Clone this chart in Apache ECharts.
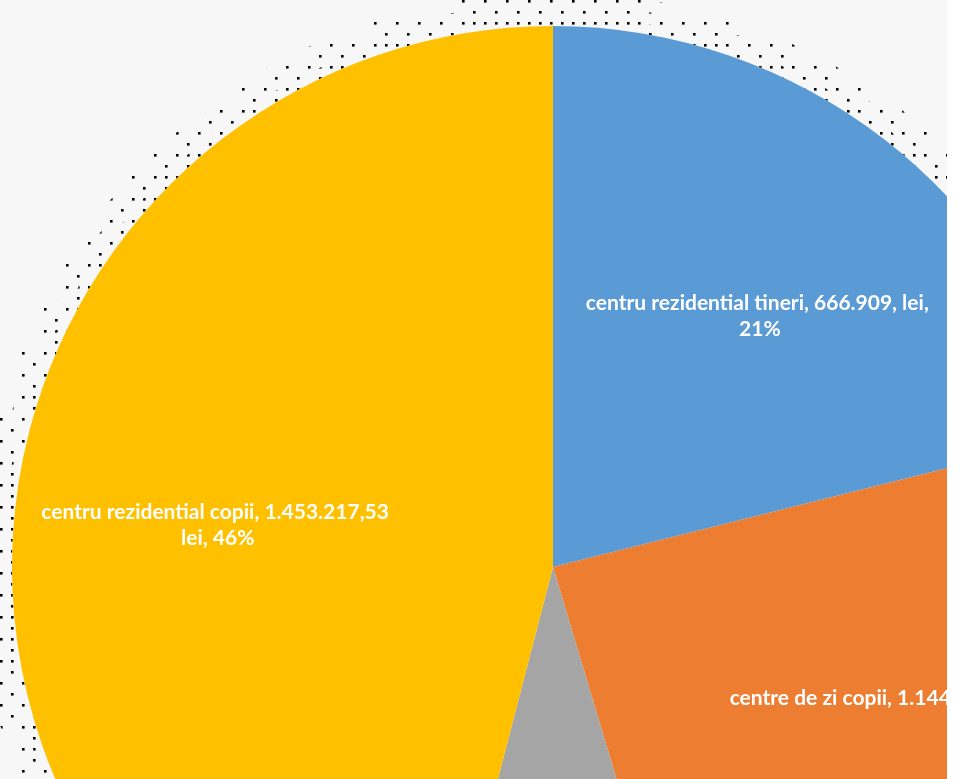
<!DOCTYPE html>
<html>
<head>
<meta charset="utf-8">
<script src="https://cdn.jsdelivr.net/npm/echarts@6/dist/echarts.min.js"></script>
<style>
  html, body { margin: 0; padding: 0; background: #ffffff; }
  #chart { width: 947px; height: 779px; background: #f7f7f7; }
</style>
</head>
<body>
<div id="chart"></div>
<script>
// ---- data ----
var categories = ['centru rezidential tineri', 'centre de zi copii', 'alte servicii', 'centru rezidential copii'];
var values = [666909, 767654, 274296, 1453217.53];
var valueTexts = ['666.909,', '1.144', '', '1.453.217,53'];
var colors = ['#5B9BD5', '#ED7D31', '#A5A5A5', '#FFC000'];

// ---- dotted shadow patterns ----
function dotPattern(points) {
  var c = document.createElement('canvas');
  c.width = 22; c.height = 22;
  var ctx = c.getContext('2d');
  ctx.fillStyle = '#000000';
  points.forEach(function (p) { ctx.fillRect(p[0], p[1], 2.6, 2.6); });
  return c;
}
var patA = dotPattern([[0, 0]]);
var patB = dotPattern([[11, 11]]);
var patC = dotPattern([[11, 0]]);

var R = 541;
var center = [553, 567];

function plainData() {
  return categories.map(function (n, i) { return { name: n, value: values[i] }; });
}

function ring(r0, r1, pat) {
  return {
    type: 'pie', silent: true, center: center, radius: [r0, r1],
    startAngle: 90, clockwise: true,
    label: { show: false }, labelLine: { show: false },
    itemStyle: { color: { image: pat, repeat: 'repeat' }, borderWidth: 0 },
    data: plainData()
  };
}

var labelOffsets = [[2, 12], [37, -33], [0, 0], [-5, 0]];

var chart = echarts.init(document.getElementById('chart'), null, { renderer: 'canvas' });
chart.setOption({
  animation: false,
  backgroundColor: '#f7f7f7',
  series: [
    ring(R, R + 34, patA),
    ring(R, R + 22, patB),
    ring(R, R + 10, patC),
    {
      type: 'pie', silent: true, center: center, radius: [0, R],
      startAngle: 90, clockwise: true,
      label: { show: false }, labelLine: { show: false },
      itemStyle: { borderWidth: 0 },
      data: categories.map(function (n, i) {
        return { name: n, value: values[i], itemStyle: { color: colors[i] } };
      })
    },
    {
      type: 'pie', silent: true, center: center, radius: [R * 0.22, R],
      startAngle: 90, clockwise: true,
      itemStyle: { color: 'rgba(0,0,0,0)', borderWidth: 0 },
      labelLine: { show: false },
      label: {
        show: true, position: 'inside',
        color: '#ffffff', fontFamily: 'Lato', fontWeight: 'bold', fontSize: 21,
        lineHeight: 26, width: 362, overflow: 'break', align: 'center',
        formatter: function (p) {
          var i = p.dataIndex;
          return categories[i] + ', ' + valueTexts[i] + ' lei, ' + Math.round(p.percent) + '%';
        }
      },
      data: categories.map(function (n, i) {
        return { name: n, value: values[i], label: { offset: labelOffsets[i], show: i !== 2 } };
      })
    }
  ]
});
</script>
</body>
</html>
